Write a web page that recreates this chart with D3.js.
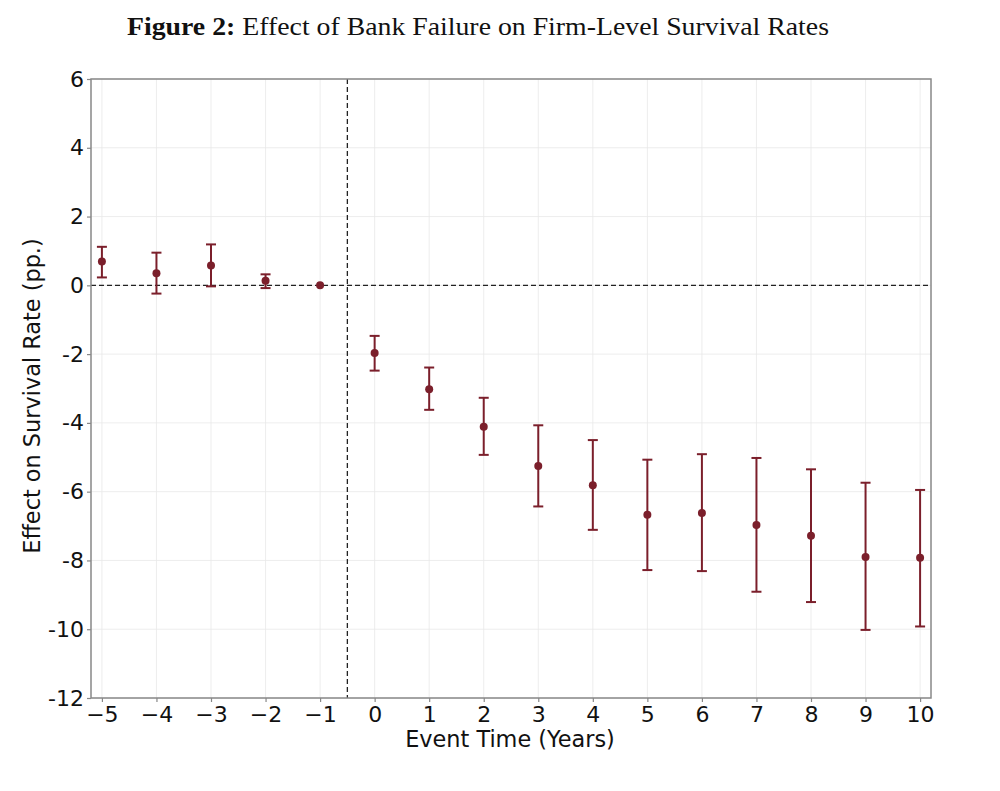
<!DOCTYPE html>
<html>
<head>
<meta charset="utf-8">
<script src="https://cdn.jsdelivr.net/npm/d3@7"></script>
<style>
  body { margin: 0; background: #fff; }
</style>
</head>
<body>
<div id="wrapper"></div>
<script>
// event time, point estimate, CI bounds (pp.)
const eventTime = [-5, -4, -3, -2, -1, 0, 1, 2, 3, 4, 5, 6, 7, 8, 9, 10];
const estimate = [0.69, 0.35, 0.58, 0.13, 0, -1.97, -3.02, -4.11, -5.25, -5.81, -6.67, -6.62, -6.97, -7.28, -7.90, -7.92];
const ciLow = [0.23, -0.24, -0.03, -0.08, 0, -2.48, -3.62, -4.93, -6.43, -7.11, -8.28, -8.31, -8.91, -9.21, -10.02, -9.92];
const ciHigh = [1.12, 0.95, 1.19, 0.32, 0, -1.47, -2.39, -3.27, -4.07, -4.50, -5.07, -4.91, -5.02, -5.35, -5.74, -5.95];
const yTicks = [6, 4, 2, 0, -2, -4, -6, -8, -10, -12];

function drawChart() {
  const width = 1000;
  const height = 791;
  const margin = { top: 79, right: 69, bottom: 93, left: 91 };
  const color = "#7b1f2b";

  const svg = d3
    .select("#wrapper")
    .append("svg")
    .attr("width", width)
    .attr("height", height);

  const innerW = width - margin.left - margin.right;
  const innerH = height - margin.top - margin.bottom;

  const bounds = svg
    .append("g")
    .attr("transform", `translate(${margin.left},${margin.top})`);

  const x = d3.scaleLinear().domain([-5.2, 10.2]).range([0, innerW]);
  const y = d3.scaleLinear().domain([-12, 6]).range([innerH, 0]);

  // grid
  const grid = bounds.append("g").attr("stroke", "#e8e8e8").attr("stroke-width", 0.8);
  eventTime.forEach((t) => {
    grid.append("line").attr("x1", x(t)).attr("x2", x(t)).attr("y1", 0).attr("y2", innerH);
  });
  yTicks.forEach((v) => {
    grid.append("line").attr("x1", 0).attr("x2", innerW).attr("y1", y(v)).attr("y2", y(v));
  });

  // reference lines
  bounds
    .append("line")
    .attr("x1", 0)
    .attr("x2", innerW)
    .attr("y1", y(0))
    .attr("y2", y(0))
    .attr("stroke", "#222")
    .attr("stroke-width", 1.3)
    .attr("stroke-dasharray", "5,3");
  bounds
    .append("line")
    .attr("x1", x(-0.5))
    .attr("x2", x(-0.5))
    .attr("y1", 0)
    .attr("y2", innerH)
    .attr("stroke", "#222")
    .attr("stroke-width", 1.3)
    .attr("stroke-dasharray", "5,3");

  // axes
  const xAxis = d3
    .axisBottom(x)
    .tickValues(eventTime)
    .tickSize(4)
    .tickPadding(4)
    .tickFormat((d) => (d < 0 ? "\u2212" + Math.abs(d) : d));
  const yAxis = d3
    .axisLeft(y)
    .tickValues(yTicks)
    .tickSize(4)
    .tickPadding(3)
    .tickFormat((d) => (d < 0 ? "-" + Math.abs(d) : d));

  const gx = bounds.append("g").attr("transform", `translate(0,${innerH})`).call(xAxis);
  const gy = bounds.append("g").call(yAxis);
  [gx, gy].forEach((g) => {
    g.select(".domain").remove();
    g.selectAll(".tick line").attr("stroke", "#888").attr("stroke-width", 1.2);
    g.selectAll(".tick text")
      .attr("fill", "#111")
      .attr("font-size", 22)
      .attr("font-family", "DejaVu Sans");
  });

  // frame
  bounds
    .append("rect")
    .attr("width", innerW)
    .attr("height", innerH)
    .attr("fill", "none")
    .attr("stroke", "#888")
    .attr("stroke-width", 1.5);

  // error bars
  const bars = bounds.append("g").attr("stroke", color).attr("stroke-width", 2);
  eventTime.forEach((t, i) => {
    if (ciHigh[i] === ciLow[i]) return;
    const cx = x(t);
    bars.append("line").attr("x1", cx).attr("x2", cx).attr("y1", y(ciLow[i])).attr("y2", y(ciHigh[i]));
    bars.append("line").attr("x1", cx - 5).attr("x2", cx + 5).attr("y1", y(ciLow[i])).attr("y2", y(ciLow[i]));
    bars.append("line").attr("x1", cx - 5).attr("x2", cx + 5).attr("y1", y(ciHigh[i])).attr("y2", y(ciHigh[i]));
  });

  bounds
    .append("g")
    .selectAll("circle")
    .data(eventTime)
    .join("circle")
    .attr("cx", (d) => x(d))
    .attr("cy", (d, i) => y(estimate[i]))
    .attr("r", 4)
    .attr("fill", color);

  // axis labels
  svg
    .append("text")
    .attr("x", 510)
    .attr("y", 747)
    .attr("text-anchor", "middle")
    .attr("font-size", 22.4)
    .attr("font-family", "DejaVu Sans")
    .attr("fill", "#111")
    .text("Event Time (Years)");
  svg
    .append("text")
    .attr("transform", `translate(40,396) rotate(-90)`)
    .attr("text-anchor", "middle")
    .attr("font-size", 22.4)
    .attr("font-family", "DejaVu Sans")
    .attr("fill", "#111")
    .text("Effect on Survival Rate (pp.)");

  // title
  const title = svg
    .append("text")
    .attr("x", 127)
    .attr("y", 35)
    .attr("font-size", 25)
    .attr("font-family", "Liberation Serif")
    .attr("fill", "#111")
    .attr("textLength", 702)
    .attr("lengthAdjust", "spacingAndGlyphs");
  title.append("tspan").attr("font-weight", "bold").text("Figure 2:");
  title.append("tspan").text(" Effect of Bank Failure on Firm-Level Survival Rates");
}

drawChart();
</script>
</body>
</html>
